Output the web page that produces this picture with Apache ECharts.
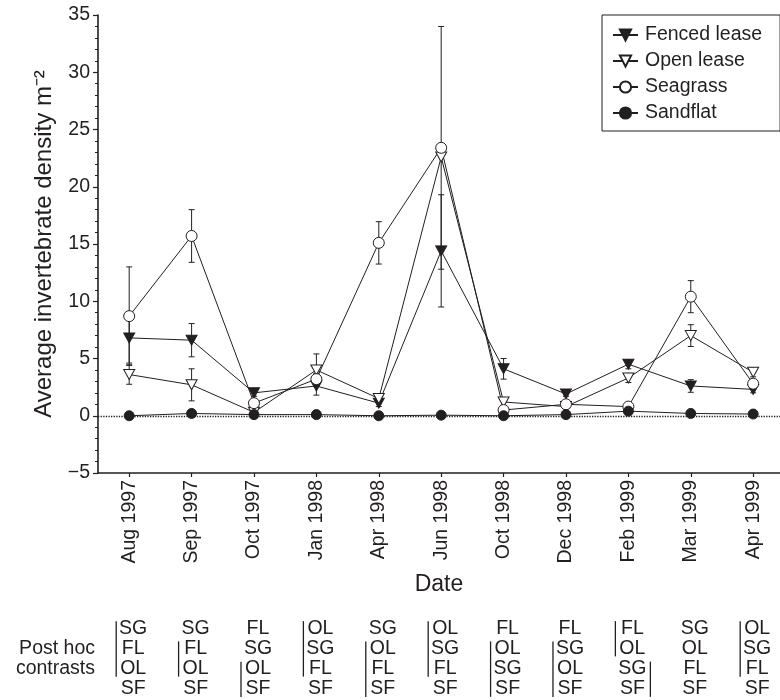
<!DOCTYPE html>
<html><head><meta charset="utf-8">
<script src="https://cdn.jsdelivr.net/npm/echarts@6/dist/echarts.min.js"></script>
<style>html,body{margin:0;padding:0;background:#fff}#c{width:780px;height:700px}</style>
</head><body><div id="c"></div>
<script>
const dates = ['Aug 1997','Sep 1997','Oct 1997','Jan 1998','Apr 1998','Jun 1998','Oct 1998','Dec 1998','Feb 1999','Mar 1999','Apr 1999'];
const fencedMean   = [6.8, 6.6, 2.0, 2.6, 1.1, 14.4, 4.1, 1.9, 4.5, 2.6, 2.3];
const fencedErr    = [2.2, 1.45, 0.3, 0.8, 0.3, 4.9, 0.9, 0.2, 0.4, 0.55, 0.3];
const openMean     = [3.6, 2.7, 0.3, 4.0, 1.5, 22.6, 1.2, 0.8, 3.3, 7.0, 3.8];
const openErr      = [0.85, 1.4, 0.2, 1.4, 0.3, 0.0, 0.3, 0.2, 0.4, 0.95, 0.4];
const seagrassMean = [8.7, 15.7, 1.1, 3.2, 15.1, 23.4, 0.5, 1.0, 0.8, 10.4, 2.8];
const seagrassErr  = [4.3, 2.3, 0.3, 0.5, 1.85, 10.6, 0.2, 0.2, 0.2, 1.4, 0.3];
const sandflatMean = [0.0, 0.2, 0.1, 0.1, 0.0, 0.05, 0.0, 0.1, 0.4, 0.2, 0.15];
const sandflatErr  = [0.05, 0.05, 0.05, 0.05, 0.05, 0.05, 0.05, 0.05, 0.1, 0.05, 0.05];
const seriesNames  = ['Fenced lease', 'Open lease', 'Seagrass', 'Sandflat'];
const yMin = -5, yMax = 35, yStep = 5;
const yTitle = 'Average invertebrate density m\u207B\u00B2';
const xTitle = 'Date';
// post hoc contrasts, top-to-bottom order per date
const contrastOrder = [
  ['SG','FL','OL','SF'],
  ['SG','FL','OL','SF'],
  ['FL','SG','OL','SF'],
  ['OL','SG','FL','SF'],
  ['SG','OL','FL','SF'],
  ['OL','SG','FL','SF'],
  ['FL','OL','SG','SF'],
  ['FL','SG','OL','SF'],
  ['FL','OL','SG','SF'],
  ['SG','OL','FL','SF'],
  ['OL','SG','FL','SF']
];
// [date index, first row, last row, side (-1 left, 1 right)]
const contrastBars = [[0,0,2,-1],[1,1,2,-1],[2,2,3,-1],[3,0,2,-1],[4,1,3,-1],[5,0,2,-1],[6,1,3,-1],[7,1,3,-1],[8,0,1,-1],[8,2,3,1],[10,0,2,-1]];
const contrastRowLabels = ['', 'Post hoc', 'contrasts', ''];

const INK = '#231f20';
const FONT = '"Liberation Sans", Arial, Helvetica, sans-serif';
const FS = 19.5;
const downTri = 'path://M0,0L10,0L5,9.5Z';
const idx = dates.map((d, i) => i);

function pts(arr) { return arr.map((v, i) => [i, v]); }
function errData(m, e) { return m.map((v, i) => [i, v - e[i], v + e[i]]).filter((d, i) => e[i] > 0); }

function errRender(params, api) {
  const x = api.value(0);
  const lo = api.coord([x, api.value(1)]);
  const hi = api.coord([x, api.value(2)]);
  const w = 3, st = { stroke: INK, lineWidth: 1 };
  return { type: 'group', children: [
    { type: 'line', shape: { x1: lo[0], y1: lo[1], x2: hi[0], y2: hi[1] }, style: st },
    { type: 'line', shape: { x1: lo[0] - w, y1: lo[1], x2: lo[0] + w, y2: lo[1] }, style: st },
    { type: 'line', shape: { x1: hi[0] - w, y1: hi[1], x2: hi[0] + w, y2: hi[1] }, style: st }
  ]};
}

const tableData = [];
contrastOrder.forEach((col, c) => col.forEach((t, r) => tableData.push([c, r])));

const lineBase = { type: 'line', xAxisIndex: 0, yAxisIndex: 0, lineStyle: { color: INK, width: 1 }, z: 3 };

const option = {
  animation: false,
  backgroundColor: '#fff',
  textStyle: { fontFamily: FONT, color: INK },
  grid: [
    { left: 98, right: 0, top: 15, bottom: 700 - 473 },
    { left: 98, right: 0, top: 618, height: 81 }
  ],
  legend: {
    data: seriesNames,
    orient: 'vertical', left: 602, top: 15,
    itemWidth: 25, itemHeight: 14, itemGap: 6,
    padding: [10, 18, 8, 10],
    borderColor: INK, borderWidth: 1,
    textStyle: { fontSize: FS, color: INK, fontFamily: FONT, padding: [0, 0, 0, 2] },
    selectedMode: false
  },
  xAxis: [
    { type: 'value', gridIndex: 0, min: -0.5, max: 10.43,
      name: xTitle, nameLocation: 'middle', nameGap: 100,
      nameTextStyle: { fontSize: 23, color: INK, fontFamily: FONT },
      axisLine: { show: true, onZero: false, lineStyle: { color: INK, width: 1.6 } },
      axisTick: { show: true, length: 4, customValues: idx, lineStyle: { color: INK, width: 1.2 } },
      axisLabel: { show: true, customValues: idx, rotate: 90, margin: 7, fontSize: FS, color: INK, fontFamily: FONT,
                   formatter: v => dates[Math.round(v)] },
      splitLine: { show: false } },
    { type: 'value', gridIndex: 1, min: -0.5, max: 10.43, show: false }
  ],
  yAxis: [
    { type: 'value', gridIndex: 0, min: yMin, max: yMax, interval: yStep,
      name: yTitle, nameLocation: 'middle', nameGap: 37,
      nameTextStyle: { fontSize: 24, color: INK, fontFamily: FONT },
      axisLine: { show: true, onZero: false, lineStyle: { color: INK, width: 1.6 } },
      axisTick: { show: true, length: 5, lineStyle: { color: INK, width: 1.2 } },
      minorTick: { show: true, splitNumber: 5, length: 3, lineStyle: { color: INK, width: 1 } },
      axisLabel: { margin: 8, fontSize: FS, color: INK, fontFamily: FONT,
                   formatter: v => String(v).replace('-', '\u2212') },
      splitLine: { show: false } },
    { type: 'category', gridIndex: 1, inverse: true, data: ['0','1','2','3'],
      axisLine: { show: false }, axisTick: { show: false },
      axisLabel: { interval: 0, margin: 3, fontSize: FS, color: INK, fontFamily: FONT,
                   formatter: (v, i) => contrastRowLabels[i] } }
  ],
  series: [
    { type: 'custom', name: 'errFenced', renderItem: errRender, data: errData(fencedMean, fencedErr), z: 1, silent: true },
    { type: 'custom', name: 'errOpen', renderItem: errRender, data: errData(openMean, openErr), z: 1, silent: true },
    { type: 'custom', name: 'errSeagrass', renderItem: errRender, data: errData(seagrassMean, seagrassErr), z: 1, silent: true },
    { type: 'custom', name: 'errSandflat', renderItem: errRender, data: errData(sandflatMean, sandflatErr), z: 1, silent: true },
    Object.assign({}, lineBase, { name: seriesNames[0], data: pts(fencedMean), symbol: downTri, symbolSize: [11, 10],
      itemStyle: { color: INK, borderColor: INK, borderWidth: 1 } }),
    Object.assign({}, lineBase, { name: seriesNames[1], data: pts(openMean), symbol: downTri, symbolSize: [11, 10],
      itemStyle: { color: '#fff', borderColor: INK, borderWidth: 1 } }),
    Object.assign({}, lineBase, { name: seriesNames[2], data: pts(seagrassMean), symbol: 'circle', symbolSize: 11,
      itemStyle: { color: '#fff', borderColor: INK, borderWidth: 1 } }),
    Object.assign({}, lineBase, { name: seriesNames[3], data: pts(sandflatMean), symbol: 'circle', symbolSize: 10,
      itemStyle: { color: INK, borderColor: INK, borderWidth: 1 },
      markLine: { silent: true, symbol: 'none', label: { show: false },
        lineStyle: { type: 'dotted', color: INK, width: 1.3 }, data: [{ yAxis: 0 }] } }),
    { type: 'custom', name: 'contrastText', xAxisIndex: 1, yAxisIndex: 1, data: tableData, silent: true,
      renderItem: function (params, api) {
        const c = api.value(0), r = api.value(1);
        const p = api.coord([c, r]);
        return { type: 'text', x: p[0] + 4, y: p[1],
          style: { text: contrastOrder[c][r], fill: INK, fontSize: FS, fontFamily: FONT, align: 'center', verticalAlign: 'middle' } };
      } },
    { type: 'custom', name: 'contrastBars', xAxisIndex: 1, yAxisIndex: 1, data: contrastBars, silent: true,
      renderItem: function (params, api) {
        const c = api.value(0);
        const a = api.coord([c, api.value(1)]);
        const b = api.coord([c, api.value(2)]);
        const x = a[0] + (api.value(3) < 0 ? -13 : 22);
        return { type: 'line', shape: { x1: x, y1: a[1] - 7, x2: x, y2: b[1] + 8 }, style: { stroke: INK, lineWidth: 1.3 } };
      } }
  ]
};
const chart = echarts.init(document.getElementById('c'), null, { renderer: 'canvas' });
chart.setOption(option);
</script></body></html>
